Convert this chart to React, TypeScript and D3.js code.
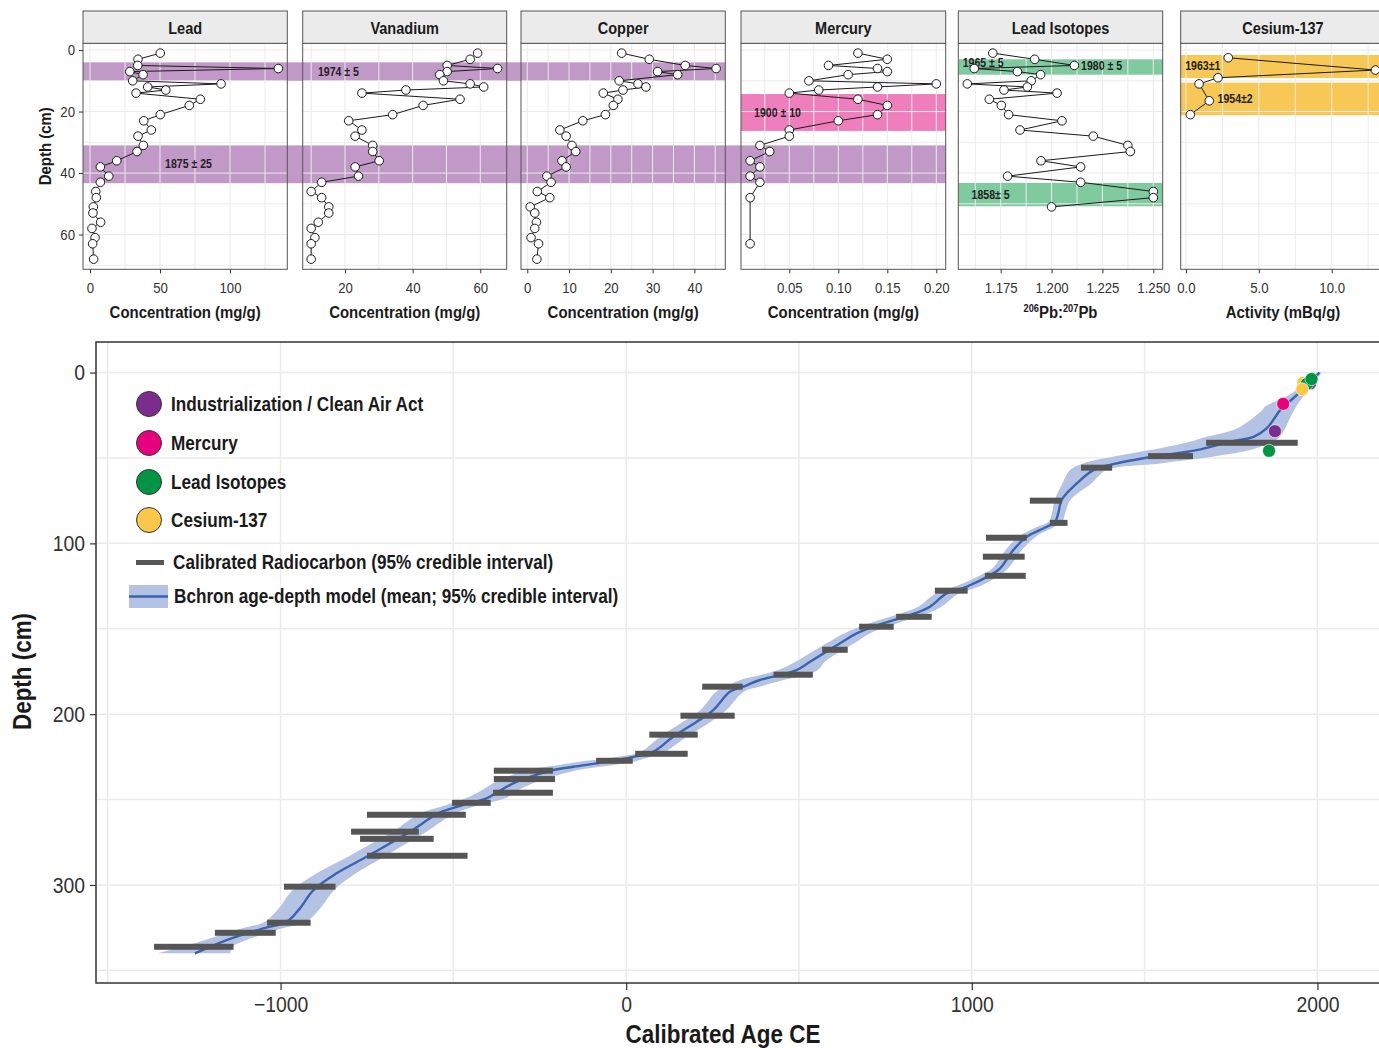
import React, { useEffect, useRef } from 'react';
import * as d3 from 'd3';

const FONT = "'Liberation Sans', Arial, sans-serif";
const SX = 0.88; // the figure's type is slightly condensed

// ---- core geochemistry, top panels (depth in cm) ----
const coreDepths = [1, 3, 5, 6, 7, 8, 10, 11, 12, 13, 14, 16, 18, 21, 23, 26, 28, 31, 33, 36, 38, 41, 43, 46, 48, 51, 53, 56, 58, 61, 63, 68];
const leadConc = [50.2, 34.3, 34.1, 134.5, 28.4, 37.9, 30.5, 93.6, 41.2, 54.1, 32.9, 78.8, 70.9, 50.2, 38.4, 43.8, 34.3, 38.1, 33.6, 19.1, 7.4, 13.4, 7.4, 4.1, 4.5, 2.4, 2.1, 7.6, 1.4, 3.6, 1.9, 2.6];
const vanadiumConc = [59.2, 57.0, 50.2, 65.1, 50.2, 48.0, 49.1, 57.0, 61.0, 38.0, 25.0, 54.0, 43.1, 34.1, 21.1, 25.0, 23.0, 28.2, 28.2, 30.1, 23.0, 24.0, 13.1, 10.0, 13.1, 15.2, 15.2, 12.1, 10.0, 11.1, 10.0, 10.0];
const copperConc = [22.6, 29.2, 37.8, 45.2, 31.2, 36.0, 22.0, 26.5, 28.4, 22.9, 18.2, 21.7, 20.6, 18.7, 13.3, 7.8, 9.3, 10.7, 11.6, 8.3, 9.3, 4.7, 5.7, 2.4, 5.4, 0.7, 1.8, 2.2, 1.8, 0.9, 2.7, 2.3];
const mercuryDepths = [1, 3, 5, 6, 7, 8, 10, 11, 12, 13, 14, 16, 18, 21, 23, 26, 28, 31, 33, 36, 38, 41, 43, 48, 63];
const mercuryConc = [0.12, 0.15, 0.09, 0.14, 0.15, 0.11, 0.07, 0.2, 0.14, 0.08, 0.05, 0.12, 0.15, 0.14, 0.1, 0.05, 0.05, 0.02, 0.03, 0.01, 0.02, 0.01, 0.02, 0.01, 0.01];
const isotopeDepths = [1, 3, 5, 6, 7, 8, 10, 11, 12, 13, 14, 16, 18, 21, 23, 26, 28, 31, 33, 36, 38, 41, 43, 46, 48, 51];
const isotopeRatio = [1.1711, 1.1917, 1.2112, 1.162, 1.1832, 1.1946, 1.19, 1.1586, 1.1881, 1.1766, 1.2027, 1.1694, 1.1753, 1.1789, 1.2051, 1.1845, 1.2205, 1.2375, 1.2387, 1.1948, 1.2143, 1.1784, 1.2143, 1.25, 1.25, 1.2];
const cesiumDepths = [2.5, 6.5, 9, 11, 16.5, 21];
const cesiumActivity = [2.9, 13.0, 2.2, 0.9, 1.6, 0.3];

const depthTicksTop = [0, 20, 40, 60];
const depthGridTop = [0, 10, 20, 30, 40, 50, 60, 70];
const leadTicks = [0, 50, 100];
const leadGrid = [0, 25, 50, 75, 100, 125];
const vanadiumTicks = [20, 40, 60];
const vanadiumGrid = [10, 20, 30, 40, 50, 60];
const copperTicks = [0, 10, 20, 30, 40];
const copperGrid = [0, 5, 10, 15, 20, 25, 30, 35, 40, 45];
const mercuryTicks = [0.05, 0.1, 0.15, 0.2];
const mercuryGrid = [0.025, 0.05, 0.075, 0.1, 0.125, 0.15, 0.175, 0.2];
const isotopeTicks = [1.175, 1.2, 1.225, 1.25];
const isotopeGrid = [1.1625, 1.175, 1.1875, 1.2, 1.2125, 1.225, 1.2375, 1.25];
const cesiumTicks = [0, 5, 10];
const cesiumGrid = [0, 2.5, 5, 7.5, 10, 12.5];

// dated horizons (depth ranges, cm)
const PURPLE = '#c199c7';
const PINK = '#ef7fbc';
const GREEN = '#80caa0';
const YELLOW = '#f8c856';
const bands = [
  { top: 4, bottom: 10, first: 0, last: 2, color: PURPLE },
  { top: 31, bottom: 43.3, first: 0, last: 3, color: PURPLE },
  { top: 14.3, bottom: 26.3, first: 3, last: 3, color: PINK },
  { top: 3, bottom: 8, first: 4, last: 4, color: GREEN },
  { top: 43.2, bottom: 50.8, first: 4, last: 4, color: GREEN },
  { top: 1.6, bottom: 9.1, first: 5, last: 5, color: YELLOW },
  { top: 10.6, bottom: 21.2, first: 5, last: 5, color: YELLOW },
];
const bandLabels = [
  { panel: 1, value: 12.0, depth: 7, text: '1974 ± 5' },
  { panel: 0, value: 53.6, depth: 37, text: '1875 ± 25' },
  { panel: 3, value: 0.014, depth: 20.5, text: '1900 ± 10' },
  { panel: 4, value: 1.1563, depth: 4.1, text: '1965 ± 5' },
  { panel: 4, value: 1.2145, depth: 5.2, text: '1980 ± 5' },
  { panel: 4, value: 1.1607, depth: 46.9, text: '1858± 5' },
  { panel: 5, value: -0.05, depth: 5.2, text: '1963±1' },
  { panel: 5, value: 2.17, depth: 15.9, text: '1954±2' },
];

// ---- age-depth model (bottom panel) ----
const modelDepth = [0, 7.3, 13.2, 20, 22, 32.7, 37.6, 40.5, 45.4, 48.9, 53.2, 57.1, 64.9, 74.6, 82.5, 87.4, 90.3, 96.1, 103.9, 114.6, 118.6, 125.4, 129.3, 137.1, 142, 146.8, 152.7, 158.5, 169.3, 174.2, 177, 180, 184, 186.9, 197.6, 204.4, 213.2, 222, 225, 227.9, 230.8, 232.7, 236.7, 240.5, 246, 249.3, 253.2, 258, 261, 268.8, 275.6, 283.5, 293.2, 303, 313.7, 321.5, 325.4, 332.3, 336.2, 340];
const modelMean = [2006, 1969, 1940, 1902, 1892, 1853, 1815, 1747, 1651, 1535, 1419, 1352, 1304, 1260, 1250, 1241, 1217, 1159, 1120, 1082, 1053, 985, 927, 879, 821, 744, 667, 619, 532, 493, 445, 387, 337, 300, 252, 204, 136, 78, 21, -56, -153, -211, -278, -327, -375, -404, -472, -545, -568, -626, -683, -751, -838, -905, -944, -982, -1050, -1156, -1204, -1248];
const modelLow = [1998, 1955, 1918, 1848, 1840, 1767, 1679, 1632, 1516, 1419, 1322, 1284, 1262, 1240, 1232, 1222, 1190, 1135, 1098, 1060, 1025, 950, 895, 845, 780, 705, 630, 580, 490, 440, 390, 330, 290, 260, 215, 165, 98, 42, -25, -134, -230, -290, -345, -385, -430, -465, -520, -595, -620, -675, -735, -805, -895, -965, -1005, -1045, -1110, -1220, -1285, -1354];
const modelHigh = [2012, 1985, 1962, 1938, 1932, 1906, 1891, 1870, 1805, 1709, 1546, 1390, 1346, 1285, 1270, 1262, 1240, 1185, 1145, 1105, 1080, 1020, 962, 912, 860, 785, 705, 660, 575, 555, 520, 455, 385, 340, 290, 245, 175, 113, 70, 21, -75, -140, -215, -270, -325, -350, -425, -495, -520, -578, -635, -700, -782, -845, -885, -925, -995, -1100, -1140, -1145];

// calibrated radiocarbon 95% intervals
const c14Depth = [41.1, 48.9, 55.7, 75, 88, 96.7, 107.8, 119, 127.7, 143, 148.8, 162.3, 176.9, 183.9, 200.9, 212, 223.2, 227.3, 233.1, 238, 246, 251.9, 258.9, 268.8, 273, 282.9, 301, 322.1, 328, 336.2];
const c14Min = [1678, 1510, 1316, 1168, 1226, 1041, 1032, 1038, 893, 781, 674, 567, 426, 220, 157, 67, 26, -87, -383, -383, -385, -504, -750, -796, -770, -750, -990, -1039, -1190, -1366];
const c14Max = [1943, 1640, 1406, 1260, 1277, 1159, 1153, 1156, 988, 884, 774, 641, 540, 337, 314, 207, 178, 19, -212, -206, -212, -392, -464, -600, -557, -459, -841, -913, -1014, -1136];

// independent dated horizons plotted on the model
const eventNames = ['Industrialization / Clean Air Act', 'Mercury', 'Lead Isotopes', 'Cesium-137'];
const eventColors = ['#7b2d8c', '#e5007d', '#009444', '#f9c84b'];
const cesiumEventAge = [1959, 1956];
const cesiumEventDepth = [6, 9.8];
const industrialEventAge = [1877, 1979];
const industrialEventDepth = [34.3, 6.3];
const isotopeEventAge = [1860, 1969, 1983];
const isotopeEventDepth = [45.8, 6.7, 3.8];
const mercuryEventAge = [1901];
const mercuryEventDepth = [18.3];

const ageTicks = [-1000, 0, 1000, 2000];
const ageGrid = [-1500, -1000, -500, 0, 500, 1000, 1500, 2000];
const depthTicks = [0, 100, 200, 300];
const depthGrid = [0, 50, 100, 150, 200, 250, 300, 350];

type Sel = d3.Selection<any, any, any, any>;
interface TextOpts { size: number; bold?: boolean; anchor?: string; rotate?: number; baseline?: string; fill?: string }

// text squeezed horizontally around its anchor point
function label(parent: Sel, x: number, y: number, text: string, o: TextOpts) {
  const g = parent.append('g')
    .attr('transform', `translate(${x},${y})${o.rotate ? ` rotate(${o.rotate})` : ''} scale(${SX},1)`);
  return g.append('text')
    .attr('text-anchor', o.anchor || 'start')
    .attr('dominant-baseline', o.baseline || 'auto')
    .attr('font-size', o.size)
    .attr('font-weight', o.bold ? 'bold' : 'normal')
    .attr('fill', o.fill || '#1a1a1a')
    .text(text);
}

function styleAxis(ax: Sel, size: number, leftOffset?: number) {
  ax.select('.domain').remove();
  ax.selectAll('line').attr('stroke', '#333');
  const t = ax.selectAll('text')
    .attr('font-size', size).attr('fill', '#333').attr('font-family', FONT)
    .attr('transform', `scale(${SX},1)`);
  if (leftOffset !== undefined) t.attr('x', -leftOffset / SX);
  ax.attr('font-family', FONT);
}

const App: React.FC = () => {
  const svgRef = useRef<SVGSVGElement>(null);

  useEffect(() => {
    if (!svgRef.current) return;
    const svg = d3.select(svgRef.current);
    svg.selectAll('*').remove();
    svg.attr('font-family', FONT);

    // ================= top panels =================
    const y = d3.scaleLinear().domain([-2.2, 71.3]).range([43.3, 269.3]);
    const [pTop, pBottom] = y.range();

    const panels = [
      { title: 'Lead', depths: coreDepths, values: leadConc, domain: [-5, 140.9], ticks: leadTicks, grid: leadGrid, fmt: d3.format('d'), x0: 83, x1: 287.3, xTitle: 'Concentration (mg/g)' },
      { title: 'Vanadium', depths: coreDepths, values: vanadiumConc, domain: [7.5, 67.8], ticks: vanadiumTicks, grid: vanadiumGrid, fmt: d3.format('d'), x0: 302.7, x1: 506.7, xTitle: 'Concentration (mg/g)' },
      { title: 'Copper', depths: coreDepths, values: copperConc, domain: [-1.5, 47.4], ticks: copperTicks, grid: copperGrid, fmt: d3.format('d'), x0: 521, x1: 725.3, xTitle: 'Concentration (mg/g)' },
      { title: 'Mercury', depths: mercuryDepths, values: mercuryConc, domain: [0.0007, 0.2096], ticks: mercuryTicks, grid: mercuryGrid, fmt: d3.format('.2f'), x0: 741, x1: 945.7, xTitle: 'Concentration (mg/g)' },
      { title: 'Lead Isotopes', depths: isotopeDepths, values: isotopeRatio, domain: [1.15416, 1.25462], ticks: isotopeTicks, grid: isotopeGrid, fmt: d3.format('.3f'), x0: 958.3, x1: 1162.7, xTitle: '' },
      { title: 'Cesium-137', depths: cesiumDepths, values: cesiumActivity, domain: [-0.36, 13.67], ticks: cesiumTicks, grid: cesiumGrid, fmt: d3.format('.1f'), x0: 1180.7, x1: 1385.2, xTitle: 'Activity (mBq/g)' },
    ];
    const xs = panels.map(p => d3.scaleLinear().domain(p.domain).range([p.x0, p.x1]));

    panels.forEach(p => {
      svg.append('rect')
        .attr('x', p.x0).attr('y', pTop)
        .attr('width', p.x1 - p.x0).attr('height', pBottom - pTop)
        .attr('fill', '#fff');
    });

    bands.forEach(b => {
      const x0 = panels[b.first].x0;
      const x1 = panels[b.last].x1;
      svg.append('rect')
        .attr('x', x0).attr('y', y(b.top))
        .attr('width', x1 - x0).attr('height', y(b.bottom) - y(b.top))
        .attr('fill', b.color);
    });

    panels.forEach((p, i) => {
      const x = xs[i];
      const g = svg.append('g');
      g.selectAll('.hg').data(depthGridTop).enter().append('line')
        .attr('x1', p.x0).attr('x2', p.x1)
        .attr('y1', d => y(d)).attr('y2', d => y(d))
        .attr('stroke', '#ebebeb').attr('stroke-width', 1);
      g.selectAll('.vg').data(p.grid).enter().append('line')
        .attr('x1', d => x(d)).attr('x2', d => x(d))
        .attr('y1', pTop).attr('y2', pBottom)
        .attr('stroke', '#ebebeb').attr('stroke-width', 1);
    });

    bandLabels.forEach(l => {
      label(svg, xs[l.panel](l.value), y(l.depth), l.text, { size: 12, bold: true, baseline: 'central', fill: '#222' });
    });

    panels.forEach((p, i) => {
      const x = xs[i];
      const idx = d3.range(p.values.length);
      const line = d3.line<number>()
        .x(k => x(p.values[k]))
        .y(k => y(p.depths[k]));
      svg.append('path')
        .datum(idx)
        .attr('fill', 'none').attr('stroke', '#1a1a1a').attr('stroke-width', 1)
        .attr('d', line);
      svg.selectAll(`.pt${i}`).data(idx).enter().append('circle')
        .attr('cx', k => x(p.values[k])).attr('cy', k => y(p.depths[k]))
        .attr('r', 4.3)
        .attr('fill', '#fff').attr('stroke', '#1a1a1a').attr('stroke-width', 1);

      // border + strip
      svg.append('rect')
        .attr('x', p.x0).attr('y', pTop)
        .attr('width', p.x1 - p.x0).attr('height', pBottom - pTop)
        .attr('fill', 'none').attr('stroke', '#555').attr('stroke-width', 1);
      svg.append('rect')
        .attr('x', p.x0).attr('y', 11)
        .attr('width', p.x1 - p.x0).attr('height', pTop - 11)
        .attr('fill', '#ebebeb').attr('stroke', '#555').attr('stroke-width', 1);
      label(svg, (p.x0 + p.x1) / 2, 28, p.title, { size: 16.5, bold: true, anchor: 'middle', baseline: 'central' });

      // x axis
      const ax = svg.append('g')
        .attr('transform', `translate(0,${pBottom})`)
        .call(d3.axisBottom(x).tickValues(p.ticks).tickSize(4).tickPadding(9.5)
          .tickFormat(d => p.fmt(d as number)));
      styleAxis(ax, 15);

      const cx = (p.x0 + p.x1) / 2;
      if (p.xTitle) {
        label(svg, cx, 318, p.xTitle, { size: 17, bold: true, anchor: 'middle' });
      } else {
        const t = label(svg, cx, 318, '', { size: 17, bold: true, anchor: 'middle' });
        t.append('tspan').attr('font-size', 10.5).attr('dy', -6).text('206');
        t.append('tspan').attr('dy', 6).text('Pb:');
        t.append('tspan').attr('font-size', 10.5).attr('dy', -6).text('207');
        t.append('tspan').attr('dy', 6).text('Pb');
      }
    });

    // depth axis on first panel
    const ay = svg.append('g')
      .attr('transform', `translate(${panels[0].x0},0)`)
      .call(d3.axisLeft(y).tickValues(depthTicksTop).tickSize(4).tickPadding(4));
    styleAxis(ay, 15, 8);
    label(svg, 45, (pTop + pBottom) / 2 - 10, 'Depth (cm)', { size: 17, bold: true, anchor: 'middle', baseline: 'central', rotate: -90 });

    // ================= age-depth model =================
    const bx = d3.scaleLinear().domain([-1534, 2210]).range([96, 1390]);
    const by = d3.scaleLinear().domain([-17.9, 357.4]).range([342, 983]);
    const [bx0, bx1] = bx.range();
    const [by0, by1] = by.range();

    svg.append('defs').append('clipPath').attr('id', 'bclip')
      .append('rect').attr('x', bx0).attr('y', by0).attr('width', bx1 - bx0).attr('height', by1 - by0);

    svg.append('rect').attr('x', bx0).attr('y', by0).attr('width', bx1 - bx0).attr('height', by1 - by0).attr('fill', '#fff');
    const grid = svg.append('g');
    grid.selectAll('.ag').data(ageGrid).enter().append('line')
      .attr('x1', d => bx(d)).attr('x2', d => bx(d)).attr('y1', by0).attr('y2', by1)
      .attr('stroke', '#ebebeb').attr('stroke-width', 1.5);
    grid.selectAll('.dg').data(depthGrid).enter().append('line')
      .attr('x1', bx0).attr('x2', bx1).attr('y1', d => by(d)).attr('y2', d => by(d))
      .attr('stroke', '#ebebeb').attr('stroke-width', 1.5);

    const plot = svg.append('g').attr('clip-path', 'url(#bclip)');
    const mi = d3.range(modelDepth.length);
    const ribbon = d3.area<number>()
      .y(k => by(modelDepth[k]))
      .x0(k => bx(modelLow[k]))
      .x1(k => bx(modelHigh[k]))
      .curve(d3.curveCatmullRom);
    plot.append('path').datum(mi).attr('fill', '#b4c3e3').attr('d', ribbon);
    const meanLine = d3.line<number>()
      .x(k => bx(modelMean[k]))
      .y(k => by(modelDepth[k]))
      .curve(d3.curveCatmullRom);
    plot.append('path').datum(mi).attr('fill', 'none').attr('stroke', '#3b63ae').attr('stroke-width', 2.4).attr('d', meanLine);

    plot.selectAll('.c14').data(d3.range(c14Depth.length)).enter().append('rect')
      .attr('x', k => bx(c14Min[k])).attr('y', k => by(c14Depth[k]) - 3)
      .attr('width', k => bx(c14Max[k]) - bx(c14Min[k])).attr('height', 6)
      .attr('fill', '#555');

    const eventSets = [
      { ages: cesiumEventAge.slice(0, 1), depths: cesiumEventDepth.slice(0, 1), color: eventColors[3] },
      { ages: industrialEventAge, depths: industrialEventDepth, color: eventColors[0] },
      { ages: isotopeEventAge, depths: isotopeEventDepth, color: eventColors[2] },
      { ages: mercuryEventAge, depths: mercuryEventDepth, color: eventColors[1] },
      { ages: cesiumEventAge.slice(1), depths: cesiumEventDepth.slice(1), color: eventColors[3] },
    ];
    eventSets.forEach(s => {
      plot.selectAll(null).data(d3.range(s.ages.length)).enter().append('circle')
        .attr('cx', k => bx(s.ages[k])).attr('cy', k => by(s.depths[k]))
        .attr('r', 6.5).attr('fill', s.color)
        .attr('stroke', '#fff').attr('stroke-width', 0.6);
    });

    svg.append('rect').attr('x', bx0).attr('y', by0).attr('width', bx1 - bx0).attr('height', by1 - by0)
      .attr('fill', 'none').attr('stroke', '#333').attr('stroke-width', 1.5);

    const bax = svg.append('g').attr('transform', `translate(0,${by1})`)
      .call(d3.axisBottom(bx).tickValues(ageTicks).tickSize(7).tickPadding(6).tickFormat(d3.format('d')));
    styleAxis(bax, 22);
    bax.selectAll('line').attr('stroke-width', 1.2);

    const bay = svg.append('g').attr('transform', `translate(${bx0},0)`)
      .call(d3.axisLeft(by).tickValues(depthTicks).tickSize(6).tickPadding(5));
    styleAxis(bay, 22, 11);
    bay.selectAll('line').attr('stroke-width', 1.2);

    label(svg, bx(280), 1043, 'Calibrated Age CE', { size: 25.5, bold: true, anchor: 'middle' });
    label(svg, 22, by(175), 'Depth (cm)', { size: 25.5, bold: true, anchor: 'middle', baseline: 'central', rotate: -90 });

    // legend
    const leg = svg.append('g');
    const rowY = [404, 443, 482, 520];
    eventNames.forEach((name, k) => {
      leg.append('circle').attr('cx', 149).attr('cy', rowY[k]).attr('r', 12.5)
        .attr('fill', eventColors[k]).attr('stroke', '#333').attr('stroke-width', 1);
      label(leg, 171, rowY[k], name, { size: 19.5, bold: true, baseline: 'central' });
    });
    leg.append('rect').attr('x', 136).attr('y', 560).attr('width', 28).attr('height', 5).attr('fill', '#555');
    label(leg, 173, 562, 'Calibrated Radiocarbon (95% credible interval)', { size: 19.5, bold: true, baseline: 'central' });
    leg.append('rect').attr('x', 129).attr('y', 585).attr('width', 39).attr('height', 23).attr('fill', '#b4c3e3');
    leg.append('line').attr('x1', 129).attr('x2', 168).attr('y1', 596.5).attr('y2', 596.5)
      .attr('stroke', '#3b63ae').attr('stroke-width', 2.4);
    label(leg, 174, 596, 'Bchron age-depth model (mean; 95% credible interval)', { size: 19.5, bold: true, baseline: 'central' });
  }, []);

  return (
    <svg
      ref={svgRef}
      width={1379}
      height={1048}
      style={{ position: 'absolute', left: 0, top: 0, background: '#fff' }}
    />
  );
};

export default App;
